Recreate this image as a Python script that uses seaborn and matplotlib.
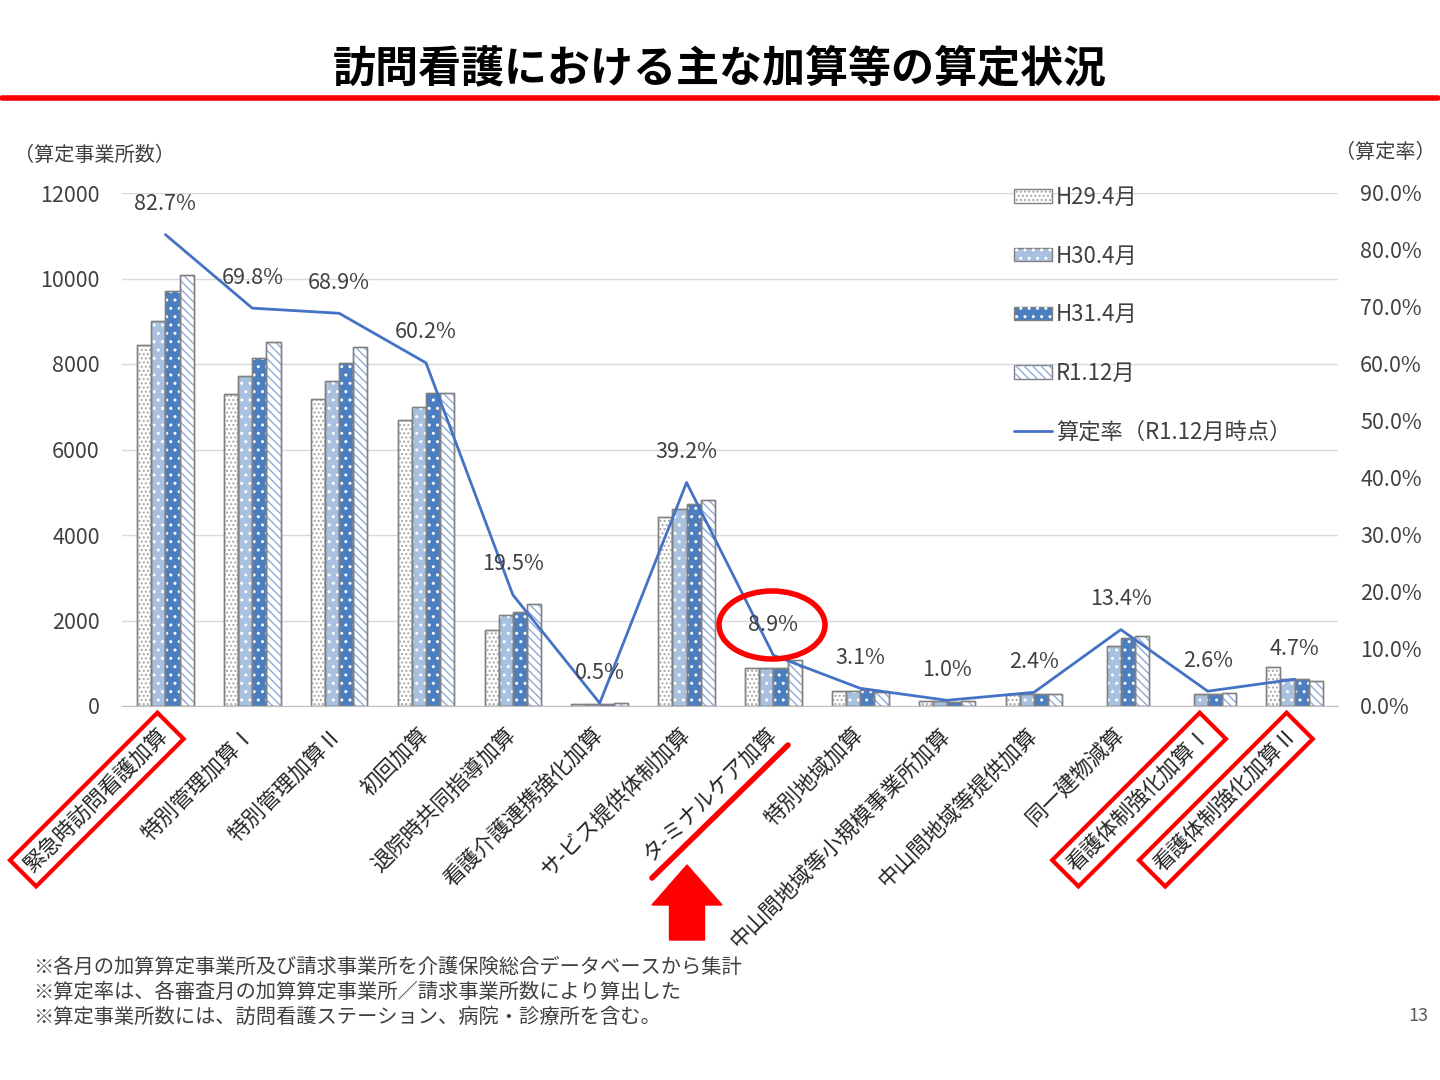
import matplotlib.pyplot as plt
import matplotlib.ticker as mticker
import matplotlib.transforms as mtransforms
from matplotlib.patches import Patch, Rectangle, Ellipse, FancyArrow
from matplotlib.lines import Line2D
import numpy as np
import pandas as pd
import seaborn as sns

sns.set_style("white")
plt.rcParams["font.family"] = ["Noto Sans CJK JP", "DejaVu Sans"]
plt.rcParams["hatch.linewidth"] = 1.0

categories = ["緊急時訪問看護加算", "特別管理加算Ⅰ", "特別管理加算Ⅱ", "初回加算",
              "退院時共同指導加算", "看護介護連携強化加算", "サ-ビス提供体制加算",
              "タ-ミナルケア加算", "特別地域加算", "中山間地域等小規模事業所加算",
              "中山間地域等提供加算", "同一建物減算", "看護体制強化加算Ⅰ", "看護体制強化加算Ⅱ"]
months = ["H29.4月", "H30.4月", "H31.4月", "R1.12月"]
h29 = [8450, 7300, 7180, 6700, 1780, 50, 4420, 900, 350, 120, 280, np.nan, np.nan, 910]
h30 = [9000, 7720, 7600, 6990, 2140, 50, 4610, 900, 350, 110, 290, 1410, 280, 620]
h31 = [9700, 8150, 8020, 7310, 2200, 55, 4720, 900, 370, 100, 290, 1580, 280, 620]
r1_12 = [10090, 8510, 8390, 7310, 2390, 60, 4810, 1080, 330, 110, 290, 1640, 300, 580]
rates = [82.7, 69.8, 68.9, 60.2, 19.5, 0.5, 39.2, 8.9, 3.1, 1.0, 2.4, 13.4, 2.6, 4.7]
left_ticks = [0, 2000, 4000, 6000, 8000, 10000, 12000]
right_ticks = [0, 10, 20, 30, 40, 50, 60, 70, 80, 90]

face_colors = ["#FFFFFF", "#A9C1E0", "#4A7EC0", "#FFFFFF"]
hatches = ["....", "..", "..", "\\\\\\\\"]
hatch_colors = ["#A6A6A6", "#FFFFFF", "#FFFFFF", "#8EA9DB"]
line_color = "#4472C4"
text_color = "#404040"

df = pd.DataFrame({"category": categories, months[0]: h29, months[1]: h30,
                   months[2]: h31, months[3]: r1_12})
df_long = df.melt(id_vars="category", var_name="month", value_name="count")

fig = plt.figure(figsize=(14.4, 10.8), dpi=100)
ax = fig.add_axes([122 / 1440, 1 - 706 / 1080, (1338 - 122) / 1440, (706 - 193) / 1080])

sns.barplot(data=df_long, x="category", y="count", hue="month", order=categories,
            hue_order=months, palette=face_colors, saturation=1, width=0.65, gap=0,
            edgecolor="#808080", linewidth=1, errorbar=None, legend=False, ax=ax)

# hatch overlays on top of the seaborn bars
for container, h, hc in zip(ax.containers, hatches, hatch_colors):
    for bar in container:
        if np.isnan(bar.get_height()):
            continue
        ax.add_patch(Rectangle(bar.get_xy(), bar.get_width(), bar.get_height(),
                               facecolor="none", edgecolor=hc, linewidth=0, hatch=h, zorder=bar.get_zorder() + 0.1))
        ax.add_patch(Rectangle(bar.get_xy(), bar.get_width(), bar.get_height(),
                               facecolor="none", edgecolor="#808080", linewidth=1, zorder=bar.get_zorder() + 0.2))

n = len(categories)
ax.set_xlim(-0.5, n - 0.5)
ax.set_ylim(0, 12000)
ax.set_yticks(left_ticks)
ax.set_xlabel("")
ax.set_ylabel("")
ax.grid(axis="y", color="#D9D9D9", linewidth=1)
ax.set_axisbelow(True)
for s in ["top", "left", "right"]:
    ax.spines[s].set_visible(False)
ax.spines["bottom"].set_color("#BFBFBF")
ax.tick_params(axis="y", length=0, pad=16, labelsize=15.5, labelcolor=text_color)
ax.set_xticks(range(n))
ax.set_xticklabels(categories, rotation=45, ha="right", va="top", rotation_mode="anchor",
                   fontsize=15.5, color="#262626")
ax.set_xticks(np.arange(-0.5, n, 1), minor=True)
ax.tick_params(axis="x", which="major", length=0, pad=12.5)
ax.tick_params(axis="x", which="minor", length=8, color="#BFBFBF")

shift = mtransforms.ScaledTranslation(-0.08, 0, fig.dpi_scale_trans)
for lab in ax.get_xticklabels():
    lab.set_transform(lab.get_transform() + shift)
for i in [0, 12, 13]:
    ax.get_xticklabels()[i].set_bbox(dict(boxstyle="square,pad=0.35", fc="none", ec="red", lw=3))

ax2 = ax.twinx()
sns.lineplot(x=np.arange(n), y=rates, ax=ax2, color=line_color, linewidth=2)
ax2.set_ylim(0, 90)
ax2.set_xlim(-0.5, n - 0.5)
ax2.set_yticks(right_ticks)
ax2.yaxis.set_major_formatter(mticker.FuncFormatter(lambda v, p: f"{v:.1f}%"))
ax2.tick_params(axis="y", length=0, pad=16, labelsize=15.5, labelcolor=text_color)
for s in ax2.spines.values():
    s.set_visible(False)
ax2.set_ylabel("")

for i, r in enumerate(rates):
    ax2.annotate(f"{r}%", (i, r), xytext=(0, 22), textcoords="offset points",
                 ha="center", va="center", fontsize=15.5, color=text_color)

handles = [(Patch(facecolor=fc, edgecolor="#808080", linewidth=1),
            Patch(facecolor="none", edgecolor=hc, linewidth=0, hatch=h))
           for fc, h, hc in zip(face_colors, hatches, hatch_colors)]
handles.append(Line2D([0], [0], color=line_color, linewidth=2))
labels = months + ["算定率（R1.12月時点）"]
ax2.legend(handles, labels, loc="upper left", bbox_to_anchor=(1014 / 1440, 1 - 186 / 1080),
           bbox_transform=fig.transFigure, frameon=False, fontsize=16, labelspacing=1.6,
           handlelength=1.7, handleheight=0.55, handletextpad=0.2, borderpad=0, borderaxespad=0,
           labelcolor=text_color)

# title and decorations
fig.text(0.5, 1 - 68 / 1080, "訪問看護における主な加算等の算定状況", ha="center", va="center",
         fontsize=31, fontweight="bold", color="#000000")
fig.add_artist(Line2D([2 / 1440, 1438 / 1440], [1 - 98 / 1080] * 2, color="red", lw=4,
                      transform=fig.transFigure))
fig.text(95 / 1440, 1 - 155 / 1080, "（算定事業所数）", ha="center", va="center", fontsize=14.5, color=text_color)
fig.text(1385 / 1440, 1 - 152 / 1080, "（算定率）", ha="center", va="center", fontsize=14.5, color=text_color)

fig.add_artist(Ellipse((772 / 1440, 1 - 625 / 1080), 106 / 1440, 68 / 1080, fc="none", ec="red", lw=4,
                       transform=fig.transFigure))
fig.add_artist(Line2D([652 / 1440, 788 / 1440], [1 - 878 / 1080, 1 - 745 / 1080], color="red", lw=4,
                      transform=fig.transFigure))
fig.add_artist(FancyArrow(6.87, 1.40, 0, 0.75, width=0.35, head_width=0.70, head_length=0.40,
                          length_includes_head=True, color="red", transform=fig.dpi_scale_trans))

notes = ["※各月の加算算定事業所及び請求事業所を介護保険総合データベースから集計",
         "※算定率は、各審査月の加算算定事業所／請求事業所数により算出した",
         "※算定事業所数には、訪問看護ステーション、病院・診療所を含む。"]
for k, note in enumerate(notes):
    fig.text(33 / 1440, 1 - (967 + 25 * k) / 1080, note, ha="left", va="center", fontsize=14.6, color=text_color)
fig.text(1418 / 1440, 1 - 1016 / 1080, "13", ha="center", va="center", fontsize=13, color="#595959")

plt.savefig("out.png", dpi=100)
